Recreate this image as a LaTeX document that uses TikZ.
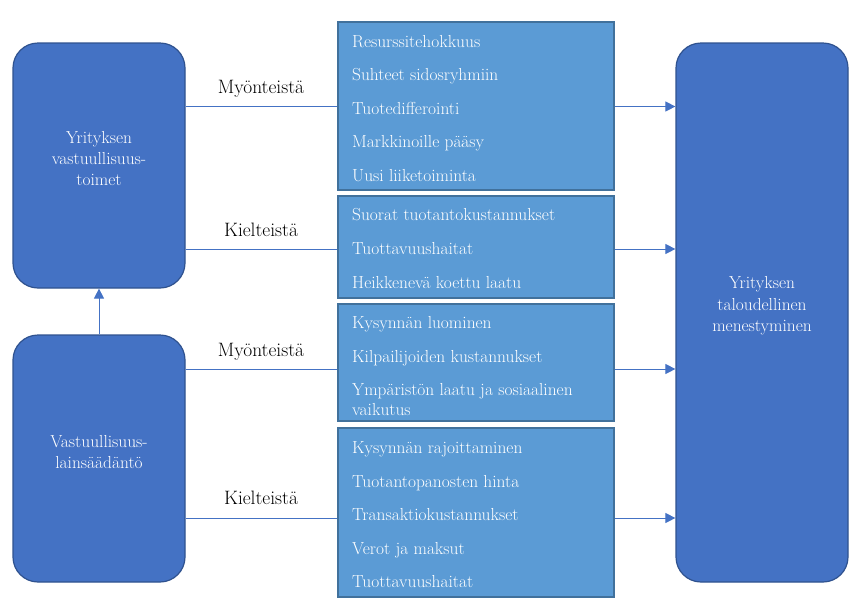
\documentclass[tikz,border=0pt]{standalone}
\usepackage{fontspec}
\usetikzlibrary{arrows.meta}
\definecolor{bigfill}{HTML}{4472C4}
\definecolor{bigdraw}{HTML}{2F528F}
\definecolor{midfill}{HTML}{5B9BD5}
\definecolor{middraw}{HTML}{41719C}
\definecolor{conncol}{HTML}{4472C4}
\tikzset{
  bigbox/.style={draw=bigdraw, fill=bigfill, line width=1.2pt, rounded corners=25pt, inner sep=0pt},
  midbox/.style={draw=middraw, fill=midfill, line width=1.5pt, inner sep=0pt, minimum width=276pt},
  wtext/.style={text=white, font=\fontsize{17.4}{21.3}\selectfont, inner sep=0pt},
  item/.style={wtext, anchor=base west},
  lbl/.style={text=black, font=\fontsize{19.4}{22}\selectfont, inner sep=0pt, anchor=base},
  conn/.style={draw=conncol, line width=1pt},
  tip/.style={-{Triangle[length=10pt,width=10pt]}}
}
\begin{document}
\begin{tikzpicture}[x=1pt,y=-1pt]
\useasboundingbox (0,0) rectangle (855,606);
% big boxes
\node[bigbox, minimum width=172pt, minimum height=245pt] (lt) at (99,165.5) {};
\node[bigbox, minimum width=172pt, minimum height=247pt] (lb) at (99,458.5) {};
\node[bigbox, minimum width=172pt, minimum height=539pt] (r) at (762,312.5) {};
% middle boxes
\node[midbox, minimum height=168pt] (m1) at (476,106) {};
\node[midbox, minimum height=102pt] (m2) at (476,247) {};
\node[midbox, minimum height=117pt] (m3) at (476,362.5) {};
\node[midbox, minimum height=169pt] (m4) at (476,512.5) {};
% big box texts
\node[wtext, align=center] (tlt) at (99,158.5) {Yrityksen\\vastuullisuus-\\toimet};
\node[wtext, align=center] (tlb) at (99,452) {Vastuullisuus-\\lainsäädäntö};
\node[wtext, align=center] (tr) at (762,306) {Yrityksen\\taloudellinen\\menestyminen};
% items
\node[item] (a1) at (352,47) {Resurssitehokkuus};
\node[item] (a2) at (352,80.5) {Suhteet sidosryhmiin};
\node[item] (a3) at (352,114) {Tuotedifferointi};
\node[item] (a4) at (352,147.5) {Markkinoille pääsy};
\node[item] (a5) at (352,181) {Uusi liiketoiminta};
\node[item] (b1) at (352,220.5) {Suorat tuotantokustannukset};
\node[item] (b2) at (352,254.5) {Tuottavuushaitat};
\node[item] (b3) at (352,288.5) {Heikkenevä koettu laatu};
\node[item] (c1) at (352,328.5) {Kysynnän luominen};
\node[item] (c2) at (352,362) {Kilpailijoiden kustannukset};
\node[item] (c3) at (352,395.5) {Ympäristön laatu ja sosiaalinen};
\node[item] (c4) at (352,415.5) {vaikutus};
\node[item] (d1) at (352,453) {Kysynnän rajoittaminen};
\node[item] (d2) at (352,487) {Tuotantopanosten hinta};
\node[item] (d3) at (352,520.5) {Transaktiokustannukset};
\node[item] (d4) at (352,554) {Verot ja maksut};
\node[item] (d5) at (352,587.5) {Tuottavuushaitat};
% labels
\node[lbl] (l1) at (261,93.5) {Myönteistä};
\node[lbl] (l2) at (261,236.5) {Kielteistä};
\node[lbl] (l3) at (261,356.5) {Myönteistä};
\node[lbl] (l4) at (261,504) {Kielteistä};
% connector levels
\coordinate (y1) at (0,106.5);
\coordinate (y2) at (0,249);
\coordinate (y3) at (0,369);
\coordinate (y4) at (0,518);
% connectors
\draw[conn] (lt.east |- y1) -- (m1.west |- y1);
\draw[conn,tip] (m1.east |- y1) -- (r.west |- y1);
\draw[conn] (lt.east |- y2) -- (m2.west |- y2);
\draw[conn,tip] (m2.east |- y2) -- (r.west |- y2);
\draw[conn] (lb.east |- y3) -- (m3.west |- y3);
\draw[conn,tip] (m3.east |- y3) -- (r.west |- y3);
\draw[conn] (lb.east |- y4) -- (m4.west |- y4);
\draw[conn,tip] (m4.east |- y4) -- (r.west |- y4);
\draw[conn,tip] (lb.north) -- (lt.south);
\end{tikzpicture}
\end{document}
